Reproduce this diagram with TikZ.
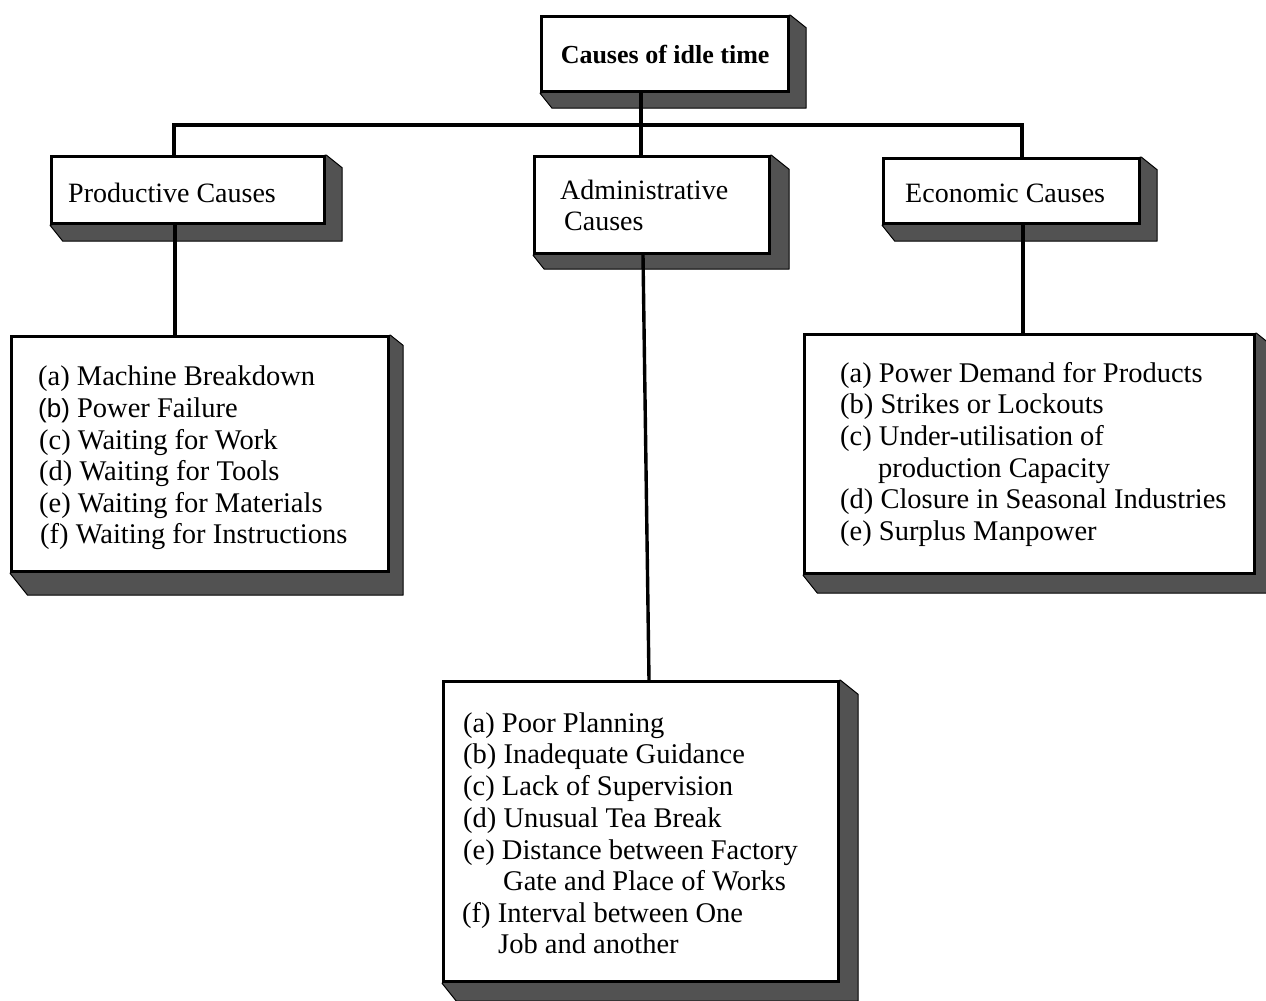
\documentclass[tikz,border=0pt]{standalone}
\usepackage{fontspec}
\setmainfont{Liberation Serif}
\newfontfamily\sansfam{Liberation Sans}
\usetikzlibrary{calc,backgrounds}
\newcommand\itmfont{\fontsize{28.5}{31}\selectfont}
\newcommand\hdrfont{\fontsize{28}{31}\selectfont}
\newcommand\ttlfont{\fontsize{26}{30}\selectfont\bfseries}
\tikzset{
  cbox/.style={draw=black, line width=3.2pt, fill=white, inner sep=0pt, anchor=north west},
  shadowfill/.style={fill=black!68, draw=black, line width=1pt, line join=round},
  conn/.style={draw=black, line width=3.4pt},
  itm/.style={anchor=base west, inner sep=0pt, font=\itmfont},
  hdr/.style={anchor=base west, inner sep=0pt, font=\hdrfont},
}
\newcommand\dropshadow[3]{\path[shadowfill] (#1.north east) -- ($(#1.north east)+(#2,0.8*#2)$) -- ($(#1.south east)+(#2,#3)$) -- ($(#1.south west)+(0.8*#3,#3)$) -- (#1.south west) -- cycle;}
\begin{document}
\begin{tikzpicture}[x=1pt,y=-1pt]
\useasboundingbox (0,0) rectangle (1266,1001);

% boxes
\node[cbox, minimum width=247pt, minimum height=75pt, font=\ttlfont] (title) at (540,15) {Causes of idle time};
\node[cbox, minimum width=273pt, minimum height=67pt] (prod) at (50,155) {};
\node[cbox, minimum width=235pt, minimum height=97pt] (adm) at (533,155) {};
\node[cbox, minimum width=256pt, minimum height=65pt] (eco) at (882,157) {};
\node[cbox, minimum width=377pt, minimum height=235pt] (plist) at (10,335) {};
\node[cbox, minimum width=450pt, minimum height=239pt] (elist) at (803,333) {};
\node[cbox, minimum width=395pt, minimum height=300pt] (alist) at (442,680) {};

% shadows and connectors
\begin{scope}[on background layer]
  \dropshadow{title}{16}{15}
  \dropshadow{prod}{16}{16}
  \dropshadow{adm}{18}{14}
  \dropshadow{eco}{16}{16}
  \dropshadow{plist}{13}{22}
  \dropshadow{elist}{13}{18}
  \dropshadow{alist}{18}{18}
  \coordinate (bus) at (641,125);
  \coordinate (jp) at (174,125);
  \coordinate (je) at (1022,125);
  \draw[conn] (title.south -| bus) -- (bus);
  \draw[conn, line cap=rect] (jp) -- (je);
  \draw[conn] (jp) -- (jp |- prod.north);
  \draw[conn] (bus) -- (bus |- adm.north);
  \draw[conn] (je) -- (je |- eco.north);
  \draw[conn] ($(jp |- prod.south)+(1,0)$) -- ($(jp |- plist.north)+(1,0)$);
  \draw[conn] ($(bus |- adm.south)+(2,0)$) -- ($(bus |- alist.north)+(8,0)$);
  \draw[conn] ($(je |- eco.south)+(1,0)$) -- ($(je |- elist.north)+(1,0)$);
\end{scope}

% header texts
\node[hdr] (prodtxt) at (68,202) {Productive Causes};
\node[hdr] (admtxt1) at (560,199) {Administrative};
\node[hdr] (admtxt2) at (564,230) {Causes};
\node[hdr] (ecotxt) at (905,202) {Economic Causes};

% productive items
\node[itm] (p1) at (38,385) {(a) Machine Breakdown};
\node[itm] (p2) at (38,417) {{\sansfam\fontsize{26}{31}\selectfont(b)} Power Failure};
\node[itm] (p3) at (39,449) {(c) Waiting for Work};
\node[itm] (p4) at (39,480) {(d) Waiting for Tools};
\node[itm] (p5) at (39,512) {(e) Waiting for Materials};
\node[itm] (p6) at (40,543) {(f) Waiting for Instructions};

% economic items
\node[itm] (e1) at (840,382) {(a) Power Demand for Products};
\node[itm] (e2) at (840,413) {(b) Strikes or Lockouts};
\node[itm] (e3) at (840,445) {(c) Under-utilisation of};
\node[itm] (e3b) at (878,477) {production Capacity};
\node[itm] (e4) at (840,508) {(d) Closure in Seasonal Industries};
\node[itm] (e5) at (840,540) {(e) Surplus Manpower};

% administrative items
\node[itm] (a1) at (463,732) {(a) Poor Planning};
\node[itm] (a2) at (463,763) {(b) Inadequate Guidance};
\node[itm] (a3) at (463,795) {(c) Lack of Supervision};
\node[itm] (a4) at (463,827) {(d) Unusual Tea Break};
\node[itm] (a5) at (463,859) {(e) Distance between Factory};
\node[itm] (a5b) at (503,890) {Gate and Place of Works};
\node[itm] (a6) at (462,922) {(f) Interval between One};
\node[itm] (a6b) at (498,953) {Job and another};
\end{tikzpicture}
\end{document}
